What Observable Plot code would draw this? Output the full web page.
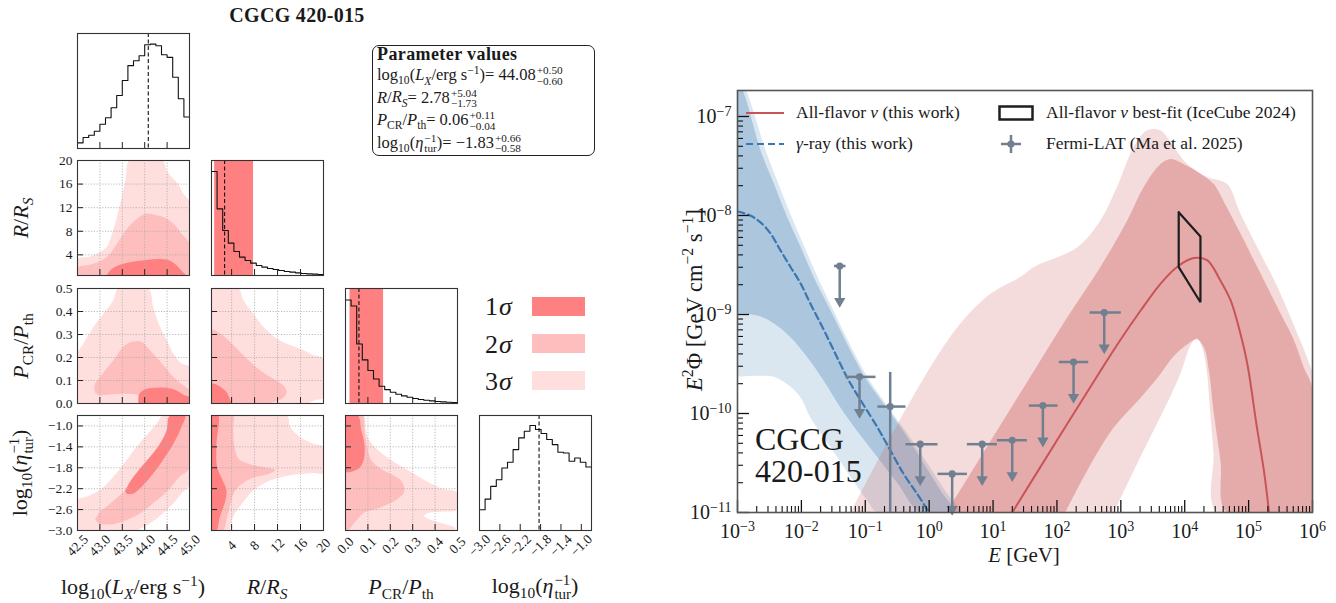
<!DOCTYPE html>
<html><head><meta charset="utf-8">
<script src="https://cdn.jsdelivr.net/npm/d3@7"></script>
<script src="https://cdn.jsdelivr.net/npm/@observablehq/plot@0.6"></script>
<style>
html,body{margin:0;padding:0;background:#fff}
#fig{position:relative;width:1336px;height:603px;overflow:hidden;font-family:"Liberation Serif","DejaVu Serif",serif;color:#1a1a1a}
.t{position:absolute;white-space:nowrap;line-height:1}
sub,sup{font-size:0.7em;line-height:0}
.ss{display:inline-flex;flex-direction:column;font-size:0.68em;line-height:0.95;vertical-align:0.52em;margin-left:1px}
#fig svg{position:absolute;overflow:visible;max-width:none}
</style></head><body><div id="fig"></div>
<script>
const fig = document.getElementById("fig");
const FONT = '"Liberation Serif","DejaVu Serif",serif';
const ss = (a, b) => `<span class="ss"><span>${a}</span><span>${b}</span></span>`;

// ---------------- corner plot: parameter summary ----------------
const paramMedian = [44.08, 2.78, 0.06, -1.83];
const paramPlus   = [0.50, 5.04, 0.11, 0.66];
const paramMinus  = [0.60, 1.73, 0.04, 0.58];
const paramLabelHTML = [
  'log<sub>10</sub>(<i>L<sub>X</sub></i>/erg s<sup>−1</sup>)',
  '<i>R</i>/<i>R<sub>S</sub></i>',
  '<i>P</i><sub>CR</sub>/<i>P</i><sub>th</sub>',
  'log<sub>10</sub>(<i>η</i>' + ss('−1', 'tur') + ')'
];
const paramDomain = [[42.5, 45], [0.5, 20], [0, 0.5], [-3.0, -0.8]];
const paramTicks = [[43, 43.5, 44, 44.5], [4, 8, 12, 16], [0.1, 0.2, 0.3, 0.4], [-2.6, -2.2, -1.8, -1.4, -1.0]];
const paramTickLabels = [[42.5, 43, 43.5, 44, 44.5, 45], [4, 8, 12, 16, 20], [0, 0.1, 0.2, 0.3, 0.4, 0.5], [-3.0, -2.6, -2.2, -1.8, -1.4, -1.0]];
const paramDecimals = [1, 0, 1, 1];
const shade1sigma = [false, true, true, false];

// 1D marginal histograms (20 bins over each range)
const histLx  = [17, 33, 40, 52, 73, 93, 123, 160, 205, 250, 265, 280, 313, 315, 310, 283, 275, 215, 150, 95];
const histR   = [312, 200, 135, 97, 72, 55, 45, 37, 30, 25, 21, 18, 15, 12, 10, 8, 6, 5, 4, 3];
const histP   = [313, 295, 180, 132, 100, 74, 52, 42, 34, 28, 23, 19, 15, 12, 10, 8, 6, 5, 4, 3];
const histEta = [62, 94, 132, 152, 187, 204, 242, 277, 297, 314, 302, 290, 272, 257, 234, 232, 207, 217, 204, 190];
const histTop = [347, 345, 348, 344];
const hists = [histLx, histR, histP, histEta];

// 2D credible regions (3σ, 2σ, 1σ outlines, [x, y])
const RvL3 = [[42.5,0.5],[42.5,3.3],[42.78,3.7],[43.0,4.5],[43.15,5.3],[43.26,7.3],[43.38,10.4],[43.49,13.8],[43.58,17.2],[43.66,20],[44.4,20],[44.49,18.3],[44.6,17.2],[44.75,16.0],[44.84,14.6],[45,12.9],[45,0.5]];
const RvL2 = [[42.5,0.5],[42.5,1.8],[42.86,2.5],[43.15,3.6],[43.38,5.9],[43.6,8.4],[43.82,10.1],[44.04,11.0],[44.23,10.8],[44.41,10.4],[44.64,9.3],[44.82,7.6],[45,5.9],[45,0.5]];
const RvL1 = [[43.15,0.5],[43.26,1.6],[43.52,2.5],[43.89,3.0],[44.27,3.3],[44.49,3.2],[44.67,2.5],[44.82,1.35],[44.93,0.5]];
const PvL3 = [[42.5,0],[42.5,0.217],[42.63,0.26],[42.86,0.334],[43.08,0.39],[43.3,0.45],[43.41,0.5],[44.08,0.5],[44.19,0.42],[44.34,0.334],[44.49,0.276],[44.64,0.217],[44.82,0.174],[45,0.16],[45,0]];
const PvL2 = [[42.9,0.045],[42.88,0.08],[43.0,0.115],[43.3,0.188],[43.52,0.247],[43.71,0.269],[43.93,0.269],[44.08,0.24],[44.27,0.2],[44.49,0.15],[44.64,0.115],[44.82,0.085],[45,0.055],[45,0],[43.88,0],[43.85,0.035],[43.0,0.035]];
const PvL1 = [[43.86,0],[43.88,0.042],[44.04,0.064],[44.27,0.069],[44.49,0.069],[44.71,0.057],[44.9,0.035],[45,0.028],[45,0]];
const PvR3 = [[0.5,0],[0.5,0.5],[5.16,0.5],[6.03,0.45],[7.78,0.39],[9.52,0.334],[11.85,0.283],[14.18,0.254],[16.5,0.232],[18.25,0.21],[20,0.196],[20,0.025],[18.5,0.015],[17.5,0]];
const PvR2 = [[0.5,0],[0.5,0.32],[1.96,0.305],[4.28,0.254],[6.6,0.196],[8.94,0.145],[11.27,0.108],[13.0,0.079],[13.6,0.05],[13.0,0.025],[11.5,0.008],[10.1,0]];
const PvR1 = [[0.5,0],[0.5,0.086],[1.96,0.074],[3.1,0.05],[3.7,0.02],[4.0,0]];
const EvL3 = [[42.5,-3.0],[42.5,-2.42],[42.71,-2.35],[43.0,-2.225],[43.3,-1.97],[43.6,-1.65],[43.82,-1.4],[44.04,-1.18],[44.27,-0.955],[44.41,-0.8],[45,-0.8],[45,-2.13],[44.82,-2.29],[44.64,-2.48],[44.41,-2.67],[44.12,-2.86],[43.82,-3.0]];
const EvL2 = [[42.89,-2.8],[43.0,-2.64],[43.15,-2.54],[43.45,-2.32],[43.75,-2.07],[44.04,-1.78],[44.27,-1.53],[44.41,-1.27],[44.53,-1.02],[44.6,-0.8],[45,-0.8],[45,-1.81],[44.78,-1.97],[44.49,-2.26],[44.19,-2.48],[43.9,-2.67],[43.6,-2.80],[43.3,-2.88],[43.0,-2.88]];
const EvL1 = [[43.56,-2.24],[43.6,-2.18],[43.67,-2.07],[43.9,-1.81],[44.12,-1.59],[44.34,-1.34],[44.49,-1.08],[44.56,-0.8],[44.9,-0.8],[44.82,-1.02],[44.64,-1.34],[44.41,-1.65],[44.19,-1.91],[43.97,-2.13],[43.75,-2.29],[43.6,-2.3]];
const EvR3 = [[0.5,-3],[0.5,-0.8],[13.6,-0.8],[14.2,-1.02],[15.9,-1.21],[18.25,-1.34],[20,-1.4],[20,-1.9],[18.25,-1.9],[15.9,-1.92],[13.0,-1.97],[10.1,-2.07],[7.78,-2.23],[5.45,-2.54],[4.28,-2.73],[3.7,-3.0]];
const EvR2 = [[0.5,-0.8],[4.28,-0.8],[4.28,-1.02],[4.5,-1.4],[5.0,-1.59],[5.45,-1.65],[7.78,-1.75],[10.1,-1.8],[11.6,-1.84],[10.1,-1.93],[7.78,-1.99],[5.9,-2.1],[4.5,-2.26],[3.7,-2.54],[3.1,-2.8],[2.5,-3.0],[0.5,-3.0]];
const EvR1 = [[0.5,-0.8],[1.66,-0.8],[1.37,-1.34],[1.48,-1.78],[2.4,-2.03],[3.1,-2.23],[2.8,-2.48],[1.96,-2.73],[1.37,-3.0],[0.5,-3.0]];
const EvP3 = [[0,-3],[0,-0.8],[0.082,-0.8],[0.09,-1.07],[0.104,-1.26],[0.142,-1.45],[0.2,-1.64],[0.276,-1.84],[0.35,-2.03],[0.425,-2.19],[0.5,-2.28],[0.5,-2.6],[0.42,-2.64],[0.366,-2.67],[0.35,-2.72],[0.37,-2.78],[0.43,-2.86],[0.49,-2.95],[0.49,-3.0]];
const EvP2 = [[0,-0.8],[0.075,-0.8],[0.085,-1.07],[0.095,-1.37],[0.112,-1.63],[0.157,-1.82],[0.216,-1.95],[0.254,-2.08],[0.261,-2.27],[0.231,-2.4],[0.172,-2.53],[0.127,-2.6],[0.082,-2.66],[0.052,-2.79],[0.022,-2.95],[0.01,-3.0],[0,-3.0]];
const EvP1 = [[0,-0.8],[0.055,-0.8],[0.07,-1.07],[0.085,-1.37],[0.082,-1.63],[0.065,-1.79],[0.037,-1.86],[0,-1.89]];
const contourTable = {
  "1,0": [RvL3, RvL2, RvL1], "2,0": [PvL3, PvL2, PvL1], "2,1": [PvR3, PvR2, PvR1],
  "3,0": [EvL3, EvL2, EvL1], "3,1": [EvR3, EvR2, EvR1], "3,2": [EvP3, EvP2, EvP1]
};
const sigmaLabels = ["1σ", "2σ", "3σ"];
const sigmaColors = ["#ff8080", "#ffbebe", "#ffdede"];

// ---------------- SED panel data: [log10 E/GeV, log10 E²Φ] ----------------
const gammaModel = [[-3,-7.96],[-2.8,-8.0],[-2.64,-8.07],[-2.48,-8.185],[-2.33,-8.35],[-2.17,-8.52],[-2.01,-8.69],[-1.86,-8.89],[-1.70,-9.09],[-1.54,-9.30],[-1.39,-9.50],[-1.23,-9.70],[-0.81,-10.14],[-0.61,-10.37],[-0.40,-10.61],[-0.19,-10.81],[0.0,-11.0]];
const gammaInnerUp = [[-3,-6.6],[-2.87,-6.82],[-2.64,-7.34],[-2.43,-7.68],[-2.22,-8.02],[-2.01,-8.32],[-1.81,-8.62],[-1.60,-8.89],[-1.39,-9.16],[-1.18,-9.43],[-0.97,-9.67],[-0.61,-9.99],[-0.34,-10.24],[-0.08,-10.51],[0.18,-10.78],[0.39,-11.0]];
const gammaInnerLo = [[-3,-8.99],[-2.69,-9.01],[-2.43,-9.09],[-2.17,-9.23],[-1.91,-9.43],[-1.65,-9.67],[-1.4,-9.93],[-1.1,-10.2],[-0.8,-10.45],[-0.5,-10.7],[-0.14,-11.0]];
const gammaOuterUp = [[-3,-6.5],[-2.8,-6.85],[-2.56,-7.34],[-2.36,-7.68],[-2.15,-8.02],[-1.95,-8.32],[-1.75,-8.62],[-1.55,-8.89],[-1.35,-9.16],[-1.14,-9.43],[-0.93,-9.67],[-0.58,-9.99],[-0.3,-10.24],[-0.02,-10.51],[0.25,-10.78],[0.47,-11.0]];
const gammaOuterLo = [[-3,-9.63],[-2.69,-9.62],[-2.43,-9.63],[-2.17,-9.73],[-2.0,-9.85],[-1.86,-10.04],[-1.54,-10.34],[-1.23,-10.64],[-0.97,-10.88],[-0.81,-11.0]];
const nuModel = [[1.30,-11.0],[2.04,-10.23],[2.68,-9.57],[2.99,-9.26],[3.31,-8.96],[3.62,-8.69],[3.88,-8.52],[4.14,-8.43],[4.35,-8.45],[4.56,-8.66],[4.72,-8.86],[4.87,-9.19],[4.98,-9.5],[5.13,-10.14],[5.24,-10.58],[5.32,-11.0]];
const nuInnerUp = [[0.27,-11.0],[1.64,-9.57],[2.16,-9.03],[2.68,-8.52],[3.10,-8.05],[3.36,-7.71],[3.62,-7.48],[3.78,-7.43],[3.98,-7.48],[4.25,-7.58],[4.45,-7.68],[4.66,-7.92],[4.87,-8.18],[5.08,-8.45],[5.29,-8.72],[5.50,-8.99],[5.71,-9.26],[5.86,-9.53],[6.0,-9.75]];
const nuInnerLo = [[2.13,-11.0],[2.47,-10.58],[2.89,-10.14],[3.31,-9.84],[3.62,-9.6],[3.83,-9.42],[4.04,-9.3],[4.19,-9.25],[4.3,-9.33],[4.38,-9.57],[4.45,-9.97],[4.56,-10.48],[4.66,-11.0],[6.0,-11.0]];
const nuOuterUp = [[-1.23,-11.0],[-0.29,-9.87],[0.44,-9.13],[0.96,-8.79],[1.43,-8.62],[1.64,-8.52],[2.32,-8.32],[2.68,-8.05],[2.94,-7.71],[3.2,-7.31],[3.41,-7.14],[3.62,-7.14],[3.83,-7.31],[4.04,-7.48],[4.35,-7.61],[4.66,-7.68],[4.87,-7.98],[5.19,-8.39],[5.45,-8.72],[5.76,-9.19],[5.97,-9.53],[6.0,-9.6]];
const nuOuterLo = [[2.89,-11.0],[3.2,-10.58],[3.46,-10.24],[3.72,-9.9],[3.93,-9.6],[4.1,-9.3],[4.19,-9.24],[4.28,-9.35],[4.35,-9.6],[4.4,-10.0],[4.45,-10.4],[4.5,-11.0],[6.0,-11.0]];
// IceCube best-fit butterfly
const icLogE = [3.906, 4.246];
const icUpperLog = [-7.967, -8.212];
const icLowerLog = [-8.522, -8.876];
// Fermi-LAT points
const fermiLogE   = [-1.40, -1.09, -0.61, -0.14, 0.36, 0.83, 1.30, 1.78, 2.26, 2.74];
const fermiLogElo = [-1.49, -1.31, -0.81, -0.37, 0.13, 0.59, 1.06, 1.56, 2.03, 2.51];
const fermiLogEhi = [-1.31, -0.84, -0.37, 0.13, 0.59, 1.06, 1.53, 2.01, 2.49, 3.00];
const fermiLogF   = [-8.51, -9.63, -9.93, -10.31, -10.61, -10.31, -10.27, -9.92, -9.48, -8.98];
const fermiIsUL   = [true, true, false, true, true, true, true, true, true, true];
const fermiLogFhi = [null, null, -9.58, null, null, null, null, null, null, null];
const fermiLogFlo = [null, null, -11.6, null, null, null, null, null, null, null];
const legendLabels = ['All-flavor <i>ν</i> (this work)', '<i>γ</i>-ray (this work)', 'All-flavor <i>ν</i> best-fit (IceCube 2024)', 'Fermi-LAT (Ma et al. 2025)'];
const sourceName = ["CGCG", "420-015"];
const xMajorExp = [-3, -2, -1, 0, 1, 2, 3, 4, 5, 6];
const yMajorExp = [-11, -10, -9, -8, -7];

// ---------------- helpers ----------------
function put(el, left, top) { el.style.left = left + "px"; el.style.top = top + "px"; fig.appendChild(el); return el; }
function label(html, x, y, {size = 20, anchor = "middle", rotate = false, weight = "normal", spacing = 0, lineHeight = 0} = {}) {
  const d = document.createElement("div");
  d.className = "t";
  d.innerHTML = html;
  d.style.fontSize = size + "px";
  d.style.fontWeight = weight;
  if (spacing) d.style.letterSpacing = spacing + "px";
  if (lineHeight) d.style.lineHeight = lineHeight + "px";
  const tx = anchor === "middle" ? "-50%" : anchor === "end" ? "-100%" : "0";
  d.style.transform = `translate(${tx},-50%)` + (rotate ? " rotate(-90deg)" : "");
  return put(d, x, y);
}
const fmtNum = (d, k) => (d < 0 ? "−" : "") + Math.abs(d).toFixed(k);

// ---------------- corner panels ----------------
const lefts = [77, 211, 345, 479], tops = [33, 160, 288, 415];
const W = 112, H = 115, TK = 6;
const style = {background: "transparent", overflow: "visible", fontFamily: FONT, color: "#1a1a1a"};

function cornerPanel(ri, ci) {
  const xDom = paramDomain[ci];
  const isHist = ri === ci;
  const yDom = isHist ? [0, histTop[ci]] : paramDomain[ri];
  const marks = [];
  if (isHist) {
    if (shade1sigma[ci]) marks.push(Plot.rect([0], {x1: paramMedian[ci] - paramMinus[ci], x2: paramMedian[ci] + paramPlus[ci], y1: yDom[0], y2: yDom[1], fill: sigmaColors[0]}));
    const counts = hists[ci];
    const bw = (xDom[1] - xDom[0]) / counts.length;
    const pts = counts.map((c, i) => [xDom[0] + i * bw, c]);
    pts.push([xDom[1], counts[counts.length - 1]]);
    marks.push(Plot.line(pts, {x: d => d[0], y: d => d[1], curve: "step-after", stroke: "#111", strokeWidth: 1.1}));
    marks.push(Plot.ruleX([paramMedian[ci]], {stroke: "#111", strokeWidth: 1.1, strokeDasharray: "4,2.5"}));
  } else {
    const regions = contourTable[ri + "," + ci];
    regions.forEach((poly, k) => marks.push(Plot.line(poly, {x: d => d[0], y: d => d[1], fill: sigmaColors[2 - k], stroke: "none", curve: "catmull-rom", clip: true})));
    marks.push(Plot.ruleX(paramTicks[ci], {stroke: "#aaa", strokeWidth: 0.8, strokeDasharray: "1.2,1.6"}));
    marks.push(Plot.ruleY(paramTicks[ri], {stroke: "#aaa", strokeWidth: 0.8, strokeDasharray: "1.2,1.6"}));
    marks.push(Plot.ruleY(paramTicks[ri], {stroke: "#222", strokeWidth: 1, insetRight: W - TK}));
    if (ci === 0) marks.push(Plot.text(paramTickLabels[ri], {y: d => d, frameAnchor: "left", dx: -5, textAnchor: "end", lineAnchor: "middle", fontSize: 13.5, text: d => fmtNum(d, paramDecimals[ri])}));
  }
  marks.push(Plot.ruleX(paramTicks[ci], {stroke: "#222", strokeWidth: 1, insetTop: H - TK}));
  if (ri === 3) marks.push(Plot.text(paramTickLabels[ci], {x: d => d, frameAnchor: "bottom", dy: 15, rotate: -45, textAnchor: "middle", lineAnchor: "middle", fontSize: 13.5, text: d => fmtNum(d, paramDecimals[ci])}));
  marks.push(Plot.frame({stroke: "#333", strokeWidth: 1.1}));
  const svg = Plot.plot({width: W, height: H, margin: 0, x: {domain: xDom, axis: null}, y: {domain: yDom, axis: null}, style, marks});
  put(svg, lefts[ci], tops[ri]);
}
for (let r = 0; r < 4; r++) for (let c = 0; c <= r; c++) cornerPanel(r, c);

// corner labels
label("CGCG 420-015", 297, 15, {size: 20, weight: "bold", spacing: 0.3});
[1, 2, 3].forEach(r => label(paramLabelHTML[r], 21, tops[r] + H / 2, {size: 22, rotate: true}));
[0, 1, 2, 3].forEach(c => label(paramLabelHTML[c], lefts[c] + W / 2, 587, {size: 22}));

// parameter box
const box = document.createElement("div");
box.style.cssText = "position:absolute;width:221px;height:109px;border:1.3px solid #222;border-radius:7px;";
put(box, 372, 45);
label("<b>Parameter values</b>", 377, 54, {size: 18, anchor: "start", spacing: 0.4});
paramLabelHTML.forEach((h, i) => {
  label(h + "= " + fmtNum(paramMedian[i], 2) + ss("+" + paramPlus[i].toFixed(2), "−" + paramMinus[i].toFixed(2)), 377, 76 + i * 22.5, {size: 16.5, anchor: "start"});
});

// sigma legend
sigmaLabels.forEach((s, i) => {
  label(s.replace("σ", "<i>σ</i>"), 485, [307, 345, 382][i], {size: 26, anchor: "start", spacing: 1});
  const sw = document.createElement("div");
  sw.style.cssText = `position:absolute;width:53px;height:19px;background:${sigmaColors[i]}`;
  put(sw, 532, [297, 334, 371][i]);
});

// ---------------- SED panel ----------------
const BLUE = "#4682b4", BLUE_LINE = "#3a76b0", RED = "#cd5a5a", RED_LINE = "#c85457", SLATE = "#708090";
const lx = d => 10 ** d[0], ly = d => 10 ** d[1];
const band = (up, lo, opts) => Plot.line(up.concat(lo.slice().reverse()), {x: lx, y: ly, stroke: "none", curve: "catmull-rom", clip: true, ...opts});
const PW = 696, PH = 500, ML = 97, MR = 24, MT = 10, MB = 68;
const fw = PW - ML - MR, fh = PH - MT - MB;
const xMinor = [], yMinor = [];
for (const e of xMajorExp.slice(0, -1)) for (let m = 2; m <= 9; m++) xMinor.push(m * 10 ** e);
for (const e of yMajorExp) for (let m = 2; m <= 9; m++) if (m * 10 ** e < 1.83e-7) yMinor.push(m * 10 ** e);
const fermi = fermiLogE.map((e, i) => ({E: 10 ** e, Elo: 10 ** fermiLogElo[i], Ehi: 10 ** fermiLogEhi[i], F: 10 ** fermiLogF[i], ul: fermiIsUL[i], Fhi: fermiLogFhi[i] == null ? null : 10 ** fermiLogFhi[i], Flo: fermiLogFlo[i] == null ? null : 10 ** fermiLogFlo[i]}));
const ul = fermi.filter(d => d.ul), det = fermi.filter(d => !d.ul);
const UL_ARROW = 0.44;
const butterfly = [[icLogE[0], icUpperLog[0]], [icLogE[1], icUpperLog[1]], [icLogE[1], icLowerLog[1]], [icLogE[0], icLowerLog[0]], [icLogE[0], icUpperLog[0]]];
const expStr = e => (e < 0 ? "−" : "") + Math.abs(e);

const sed = Plot.plot({
  width: PW, height: PH, marginLeft: ML, marginRight: MR, marginTop: MT, marginBottom: MB,
  x: {type: "log", domain: [1e-3, 1e6], axis: null},
  y: {type: "log", domain: [1e-11, 1.83e-7], axis: null},
  style: {...style, fontSize: "19px"},
  marks: [
    band(gammaOuterUp, gammaOuterLo, {fill: BLUE, fillOpacity: 0.2}),
    band(gammaInnerUp, gammaInnerLo, {fill: BLUE, fillOpacity: 0.31}),
    band(nuOuterUp, nuOuterLo, {fill: RED, fillOpacity: 0.21}),
    band(nuInnerUp, nuInnerLo, {fill: RED, fillOpacity: 0.38}),
    Plot.line(gammaModel, {x: lx, y: ly, stroke: BLUE_LINE, strokeWidth: 2.2, strokeDasharray: "7,4", curve: "catmull-rom", clip: true}),
    Plot.line(nuModel, {x: lx, y: ly, stroke: RED_LINE, strokeWidth: 2, curve: "catmull-rom", clip: true}),
    Plot.line(butterfly, {x: lx, y: ly, stroke: "#1e1e1e", strokeWidth: 2.2, strokeLinejoin: "miter"}),
    Plot.link(fermi, {x1: "Elo", x2: "Ehi", y1: "F", y2: "F", stroke: SLATE, strokeWidth: 2.5}),
    Plot.link(ul, {x1: "E", x2: "E", y1: "F", y2: d => d.F * UL_ARROW, stroke: SLATE, strokeWidth: 2.5}),
    Plot.dot(ul, {x: "E", y: d => d.F * UL_ARROW, symbol: "triangle", rotate: 180, r: 4.2, fill: SLATE, stroke: "none"}),
    Plot.link(det, {x1: "E", x2: "E", y1: "Flo", y2: "Fhi", stroke: SLATE, strokeWidth: 2.5, clip: true}),
    Plot.dot(fermi, {x: "E", y: "F", r: 3.6, fill: SLATE, stroke: "none"}),
    Plot.ruleX(xMajorExp.map(e => 10 ** e), {stroke: "#111", strokeWidth: 1.3, insetTop: fh - 12}),
    Plot.ruleX(xMinor, {stroke: "#111", strokeWidth: 1.1, insetTop: fh - 6}),
    Plot.ruleY(yMajorExp.map(e => 10 ** e), {stroke: "#111", strokeWidth: 1.3, insetRight: fw - 12}),
    Plot.ruleY(yMinor, {stroke: "#111", strokeWidth: 1.1, insetRight: fw - 6}),
    Plot.text(xMajorExp, {x: e => 10 ** e, frameAnchor: "bottom", dy: 19, lineAnchor: "middle", text: e => "10^" + expStr(e), fontSize: 20}),
    Plot.text(yMajorExp, {y: e => 10 ** e, frameAnchor: "left", dx: -6, textAnchor: "end", lineAnchor: "middle", text: e => "10^" + expStr(e), fontSize: 20}),
    Plot.frame({stroke: "#555", strokeWidth: 1.6})
  ]
});
sed.querySelectorAll("text").forEach(t => {
  const m = /^10\^(.+)$/.exec(t.textContent);
  if (m) {
    t.textContent = "10";
    const ts = document.createElementNS("http://www.w3.org/2000/svg", "tspan");
    ts.setAttribute("dy", "-0.5em");
    ts.setAttribute("font-size", "0.7em");
    ts.textContent = m[1];
    t.appendChild(ts);
  }
});
put(sed, 640, 80);

// SED labels
label('<i>E</i><sup>2</sup>Φ [GeV cm<sup>−2</sup> s<sup>−1</sup>]', 695, 300, {size: 22.5, rotate: true});
label('<i>E</i> [GeV]', 1024, 555, {size: 21});
label(sourceName.join("<br>"), 755, 455, {size: 32, anchor: "start", lineHeight: 32});

// SED legend
const R1 = 113, R2 = 144;
function swatch(svgInner, x, y, w, h) {
  const s = document.createElementNS("http://www.w3.org/2000/svg", "svg");
  s.setAttribute("width", w); s.setAttribute("height", h);
  s.innerHTML = svgInner;
  put(s, x, y);
}
swatch(`<line x1="0" y1="6" x2="38" y2="6" stroke="${RED_LINE}" stroke-width="2.2"/>`, 746, R1 - 6, 38, 12);
swatch(`<line x1="0" y1="6" x2="38" y2="6" stroke="${BLUE_LINE}" stroke-width="2.2" stroke-dasharray="7,4"/>`, 746, R2 - 6, 38, 12);
swatch(`<rect x="1.5" y="1.5" width="33" height="13" fill="none" stroke="#1e1e1e" stroke-width="2.5"/>`, 998, R1 - 8, 36, 16);
swatch(`<line x1="1" y1="10" x2="21" y2="10" stroke="${SLATE}" stroke-width="2.5"/><line x1="11" y1="1" x2="11" y2="19" stroke="${SLATE}" stroke-width="2.5"/><circle cx="11" cy="10" r="3.6" fill="${SLATE}"/>`, 1000, R2 - 10, 22, 20);
label(legendLabels[0], 796, R1, {size: 17.5, anchor: "start"});
label(legendLabels[1], 796, R2, {size: 17.5, anchor: "start"});
label(legendLabels[2], 1046, R1, {size: 17.5, anchor: "start"});
label(legendLabels[3], 1046, R2, {size: 17.5, anchor: "start"});
</script></body></html>
